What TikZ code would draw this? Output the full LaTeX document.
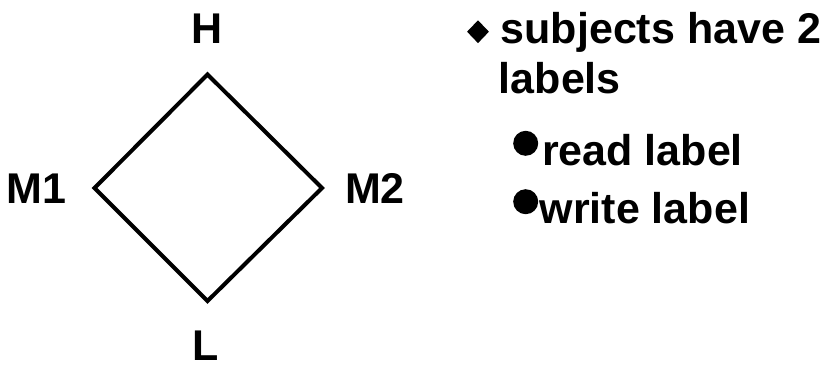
\documentclass[tikz,border=0pt]{standalone}
\usepackage{fontspec}
\setmainfont{Liberation Sans}
\usetikzlibrary{shapes.geometric}
\tikzset{
  lbl/.style={inner sep=0pt, anchor=base, font=\fontsize{43}{50}\selectfont\bfseries},
  txt/.style={inner sep=0pt, anchor=base west, font=\fontsize{43}{50}\selectfont\bfseries},
  edge/.style={line width=4pt, line join=miter},
  dbullet/.style={diamond, fill=black, inner sep=0pt, minimum width=22pt, minimum height=23pt},
  cbullet/.style={circle, fill=black, inner sep=0pt, minimum size=25pt}
}
\begin{document}
\begin{tikzpicture}[x=1pt, y=-1pt]
\useasboundingbox (0,0) rectangle (823,365);
% lattice
\coordinate (vh) at (207.5,74.5);
\coordinate (vm1) at (94.5,188);
\coordinate (vm2) at (322,188);
\coordinate (vl) at (207.5,301);
\draw[edge] (vh) -- (vm1) -- (vl) -- (vm2) -- cycle;
\node[lbl] (H) at (207,43.3) {H};
\node[lbl] (M1) at (36.7,203.3) {M1};
\node[lbl] (M2) at (375,203.3) {M2};
\node[lbl] (L) at (206,360) {L};
% bullets
\node[dbullet] (b1) at (478,31.7) {};
\node[txt] (t1) at (500.5,43.3) {subjects have 2};
\node[txt] (t2) at (498.7,93.3) {labels};
\node[cbullet] (b2) at (525.7,143.3) {};
\node[txt] (t3) at (542,165) {read label};
\node[cbullet] (b3) at (525.7,201.7) {};
\node[txt] (t4) at (539.5,223) {write label};
\end{tikzpicture}
\end{document}
